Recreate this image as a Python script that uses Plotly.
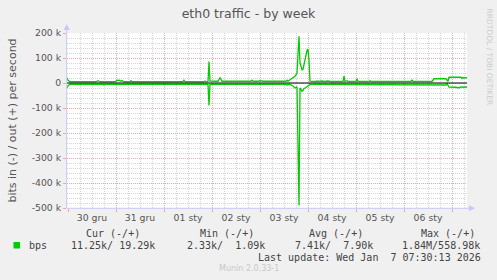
import plotly.graph_objects as go

# ---------------- data ----------------
title_text = "eth0 traffic - by week"
y_title = "bits in (-) / out (+) per second"

times = [
    "2025-12-29 23:30", "2025-12-30 00:00", "2025-12-30 01:00", "2025-12-30 14:00",
    "2025-12-30 15:00", "2025-12-30 16:00", "2025-12-30 17:30", "2025-12-30 18:00",
    "2025-12-30 18:30", "2025-12-30 23:30", "2025-12-31 00:30", "2025-12-31 01:30",
    "2025-12-31 02:30", "2025-12-31 03:00", "2025-12-31 04:00", "2025-12-31 07:00",
    "2025-12-31 07:30", "2025-12-31 08:00", "2026-01-01 05:00", "2026-01-01 05:30",
    "2026-01-01 06:00", "2026-01-01 09:30", "2026-01-01 10:00", "2026-01-01 10:30",
    "2026-01-01 20:00", "2026-01-01 20:30", "2026-01-01 21:00", "2026-01-01 22:00",
    "2026-01-01 22:30", "2026-01-01 23:00", "2026-01-02 03:00", "2026-01-02 04:00",
    "2026-01-02 05:00", "2026-01-02 19:30", "2026-01-02 20:00", "2026-01-02 20:30",
    "2026-01-02 23:30", "2026-01-03 00:00", "2026-01-03 00:30", "2026-01-03 01:00",
    "2026-01-03 01:30", "2026-01-03 13:00", "2026-01-03 13:30", "2026-01-03 14:00",
    "2026-01-03 15:00", "2026-01-03 16:30", "2026-01-03 17:30", "2026-01-03 18:30",
    "2026-01-03 19:30", "2026-01-03 20:00", "2026-01-03 20:30", "2026-01-03 21:00",
    "2026-01-03 21:30", "2026-01-03 22:00", "2026-01-03 23:00", "2026-01-03 23:30",
    "2026-01-04 00:00", "2026-01-04 00:30", "2026-01-04 01:00", "2026-01-04 04:00",
    "2026-01-04 04:30", "2026-01-04 05:00", "2026-01-04 07:00", "2026-01-04 08:00",
    "2026-01-04 10:00", "2026-01-04 11:00", "2026-01-04 17:30", "2026-01-04 18:00",
    "2026-01-04 18:30", "2026-01-04 19:30", "2026-01-04 20:00", "2026-01-05 00:00",
    "2026-01-05 00:30", "2026-01-05 01:00", "2026-01-05 06:30", "2026-01-05 07:00",
    "2026-01-05 07:30", "2026-01-05 23:00", "2026-01-05 23:30", "2026-01-06 00:00",
    "2026-01-06 03:30", "2026-01-06 04:00", "2026-01-06 04:30", "2026-01-06 14:00",
    "2026-01-06 14:30", "2026-01-06 15:00", "2026-01-06 21:00", "2026-01-06 21:30",
    "2026-01-06 22:00", "2026-01-06 22:30", "2026-01-07 02:00", "2026-01-07 03:00",
    "2026-01-07 04:30", "2026-01-07 05:00", "2026-01-07 05:30", "2026-01-07 07:30",
]

# outgoing traffic (drawn positive), bits per second
out_bps = [
    20e3, 11e3, 5e3, 5e3,
    9e3, 5e3, 5e3, 4e3,
    5e3, 5e3, 10e3, 11e3,
    7e3, 10e3, 5e3, 5e3,
    9e3, 5e3, 5e3, 8e3,
    5e3, 5e3, 11e3, 5e3,
    5e3, 8e3, 5e3, 6e3,
    86e3, 8e3, 7e3, 22e3,
    7e3, 7e3, 11e3, 7e3,
    7e3, 10e3, 7e3, 9e3,
    7e3, 7e3, 11e3, 7e3,
    13e3, 20e3, 27e3, 40e3,
    187e3, 80e3, 60e3, 53e3,
    55e3, 73e3, 113e3, 130e3,
    135e3, 90e3, 7e3, 6e3,
    9e3, 6e3, 8e3, 6e3,
    8e3, 6e3, 6e3, 28e3,
    6e3, 9e3, 6e3, 6e3,
    17e3, 6e3, 6e3, 9e3,
    6e3, 6e3, 9e3, 6e3,
    6e3, 13e3, 6e3, 6e3,
    12e3, 17e3, 17e3, 12e3,
    7e3, 23e3, 23e3, 22e3,
    23e3, 18e3, 22e3, 20e3,
]

# incoming traffic (drawn negative), bits per second
in_bps = [
    20e3, 11e3, 5.5e3, 5.5e3,
    5.5e3, 5.5e3, 5.5e3, 9e3,
    5.5e3, 5.5e3, 5.5e3, 6e3,
    5.5e3, 6e3, 5.5e3, 5.5e3,
    8e3, 5.5e3, 5.5e3, 5.5e3,
    5.5e3, 5.5e3, 7e3, 5.5e3,
    5.5e3, 7e3, 5.5e3, 5.5e3,
    90e3, 5.5e3, 5.5e3, 5.5e3,
    5.5e3, 5.5e3, 6e3, 5.5e3,
    5.5e3, 7e3, 5.5e3, 5.5e3,
    5.5e3, 5.5e3, 9e3, 5.5e3,
    6e3, 12e3, 20e3, 15e3,
    490e3, 20e3, 25e3, 33e3,
    30e3, 22e3, 18e3, 15e3,
    13e3, 10e3, 5.5e3, 5.5e3,
    5.5e3, 5.5e3, 5.5e3, 5.5e3,
    5.5e3, 5.5e3, 5.5e3, 6e3,
    5.5e3, 5.5e3, 5.5e3, 5.5e3,
    8e3, 5.5e3, 5.5e3, 8e3,
    5.5e3, 5.5e3, 8e3, 5.5e3,
    5.5e3, 6e3, 5.5e3, 5.5e3,
    6e3, 8e3, 8e3, 3e3,
    12e3, 16e3, 17e3, 19e3,
    17e3, 15e3, 17e3, 16e3,
]

time_range = ["2025-12-29 23:30", "2026-01-07 07:30"]
zero_level = [0, 0]

day_starts = ["2025-12-30", "2025-12-31", "2026-01-01", "2026-01-02", "2026-01-03",
              "2026-01-04", "2026-01-05", "2026-01-06", "2026-01-07"]
day_centers = ["2025-12-30 12:00", "2025-12-31 12:00", "2026-01-01 12:00", "2026-01-02 12:00",
               "2026-01-03 12:00", "2026-01-04 12:00", "2026-01-05 12:00", "2026-01-06 12:00"]
day_labels = ["30 gru", "31 gru", "01 sty", "02 sty", "03 sty", "04 sty", "05 sty", "06 sty"]

y_tick_vals = [-500e3, -400e3, -300e3, -200e3, -100e3, 0, 100e3, 200e3]
y_tick_text = ["-500 k", "-400 k", "-300 k", "-200 k", "-100 k", "0", "100 k", "200 k"]

legend_headers = ["Cur (-/+)", "Min (-/+)", "Avg (-/+)", "Max (-/+)"]
legend_name = "bps"
legend_values = ["11.25k/ 19.29k", "2.33k/  1.09k", "7.41k/  7.90k", "1.84M/558.98k"]
last_update = "Last update: Wed Jan  7 07:30:13 2026"
footer = "Munin 2.0.33-1"
side_text = "RRDTOOL / TOBI OETIKER"

# ---------------- styling ----------------
W, H = 497, 280
ML, MR, MT, MB = 67, 30, 33, 72
PW, PH = W - ML - MR, H - MT - MB

def px(x):
    return (x - ML) / PW

def py(y):
    return 1 - (y - MT) / PH

GREEN = "#00CC00"
TXT = "#555555"
AXIS = "#C8C8F8"
MAJ = "#F0A8A8"
MIN = "#D4D4D4"
SANS = "DejaVu Sans"
MONO = "DejaVu Sans Mono"

fig = go.Figure()
fig.add_trace(go.Scatter(x=times, y=out_bps, mode="lines", line=dict(color=GREEN, width=1.3),
                         name="out", showlegend=False, hoverinfo="skip"))
fig.add_trace(go.Scatter(x=times, y=[-v for v in in_bps], mode="lines",
                         line=dict(color=GREEN, width=1.3), name="in", showlegend=False,
                         hoverinfo="skip"))
fig.add_trace(go.Scatter(x=time_range, y=zero_level, mode="lines", line=dict(color="#000000", width=1),
                         showlegend=False, hoverinfo="skip"))
# invisible trace for the day-label axis
fig.add_trace(go.Scatter(x=time_range, y=zero_level, mode="lines", line=dict(width=0),
                         opacity=0, xaxis="x2", showlegend=False, hoverinfo="skip"))

fig.update_layout(
    width=W, height=H,
    margin=dict(l=ML, r=MR, t=MT, b=MB, pad=0),
    paper_bgcolor="#F0F0F0", plot_bgcolor="#FFFFFF",
    font=dict(family=SANS, color=TXT, size=10),
    title=dict(text=title_text, x=0.5, xanchor="center", y=1 - 14 / H, yanchor="middle",
               font=dict(family=SANS, size=12.5, color=TXT)),
    showlegend=False,
    xaxis=dict(
        type="date", range=time_range,
        tickmode="array", tickvals=day_starts, showticklabels=False,
        showgrid=True, gridcolor=MAJ, griddash="1px,1px", gridwidth=1,
        ticks="outside", ticklen=3, tickcolor=MAJ, tickwidth=1,
        minor=dict(dtick=6 * 3600 * 1000, tick0="2025-12-30", showgrid=True,
                   gridcolor=MIN, griddash="1px,1px", gridwidth=1, ticks=""),
        showline=False, zeroline=False, fixedrange=True,
    ),
    xaxis2=dict(
        type="date", overlaying="x", matches="x", side="bottom", anchor="y",
        tickmode="array", tickvals=day_centers, ticktext=day_labels,
        showgrid=False, ticks="", showline=False, zeroline=False,
        tickfont=dict(family=SANS, size=9.3, color=TXT), ticklabelstandoff=3,
    ),
    yaxis=dict(
        range=[-500e3, 200e3],
        tickmode="array", tickvals=y_tick_vals, ticktext=y_tick_text,
        tickfont=dict(family=SANS, size=9.3, color=TXT),
        showgrid=True, gridcolor=MAJ, griddash="1px,1px", gridwidth=1,
        ticks="outside", ticklen=3, tickcolor=MAJ, tickwidth=1,
        minor=dict(dtick=20e3, tick0=0, showgrid=True, gridcolor=MIN,
                   griddash="1px,1px", gridwidth=1, ticks=""),
        showline=False, zeroline=False, fixedrange=True,
        title=dict(text=y_title, font=dict(family=SANS, size=11, color=TXT), standoff=12),
    ),
)

shapes = []
# axis lines with arrow heads
shapes.append(dict(type="line", xref="paper", yref="paper", x0=px(66.7), x1=px(66.7),
                   y0=py(208.3), y1=py(29), line=dict(color=AXIS, width=1)))
shapes.append(dict(type="path", xref="paper", yref="paper",
                   path=f"M {px(63.7)} {py(30)} L {px(66.7)} {py(24)} L {px(69.7)} {py(30)} Z",
                   fillcolor=AXIS, line=dict(color=AXIS, width=0)))
shapes.append(dict(type="line", xref="paper", yref="paper", x0=px(66.7), x1=px(470),
                   y0=py(208.3), y1=py(208.3), line=dict(color=AXIS, width=1)))
shapes.append(dict(type="path", xref="paper", yref="paper",
                   path=f"M {px(469)} {py(205.3)} L {px(475)} {py(208.3)} L {px(469)} {py(211.3)} Z",
                   fillcolor=AXIS, line=dict(color=AXIS, width=0)))
# legend colour swatch
shapes.append(dict(type="rect", xref="paper", yref="paper", x0=px(13.5), x1=px(20),
                   y0=py(248.5), y1=py(242), fillcolor=GREEN, line=dict(width=0)))
fig.update_layout(shapes=shapes)

ann = []
header_right = [141.7, 255.5, 365, 476.7]
value_right = [157.3, 267.3, 375, 482.3]
for h, r in zip(legend_headers, header_right):
    ann.append(dict(text=h, x=px(r), y=py(233), xanchor="right", yanchor="middle"))
for v, r in zip(legend_values, value_right):
    ann.append(dict(text=v, x=px(r), y=py(245.5), xanchor="right", yanchor="middle"))
ann.append(dict(text=legend_name, x=px(26.5), y=py(245.5), xanchor="left", yanchor="middle"))
ann.append(dict(text=last_update, x=px(483.3), y=py(257.5), xanchor="right", yanchor="middle"))
for a in ann:
    a.update(xref="paper", yref="paper", showarrow=False,
             font=dict(family=MONO, size=10, color="#444444"))
ann.append(dict(text=footer, x=px(248.5), y=py(268.5), xref="paper", yref="paper",
                xanchor="center", yanchor="middle", showarrow=False,
                font=dict(family=SANS, size=8, color="#C8C8C8")))
ann.append(dict(text=side_text, x=px(489), y=py(56.5), xref="paper", yref="paper",
                xanchor="center", yanchor="middle", showarrow=False, textangle=90,
                font=dict(family=SANS, size=7.5, color="#CCCCCC")))
fig.update_layout(annotations=ann)

fig.write_html("out.html")
